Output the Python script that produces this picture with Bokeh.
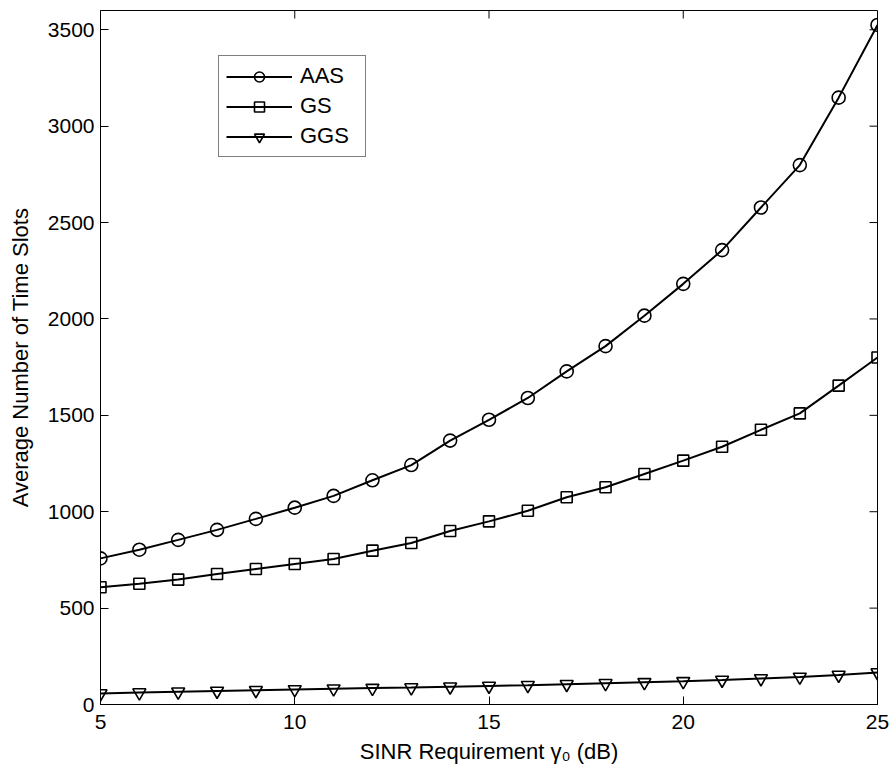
import math
from bokeh.plotting import figure
from bokeh.models import LinearAxis, FixedTicker, Legend, LegendItem, Range1d
from bokeh.embed import file_html
from bokeh.resources import INLINE

# ---- data ----
sinr = [5, 6, 7, 8, 9, 10, 11, 12, 13, 14, 15, 16, 17, 18, 19, 20, 21, 22, 23, 24, 25]
aas = [758, 803, 854, 906, 963, 1021, 1082, 1163, 1242, 1369, 1477, 1590, 1728, 1859,
       2017, 2182, 2357, 2578, 2798, 3148, 3525]
gs = [608, 626, 648, 677, 703, 729, 755, 798, 838, 900, 950, 1005, 1075, 1127,
      1196, 1265, 1337, 1425, 1510, 1654, 1800]
ggs = [57, 62, 66, 70, 74, 78, 82, 85, 88, 92, 96, 100, 105, 110,
       115, 120, 127, 135, 143, 153, 166]
x_ticks = [5, 10, 15, 20, 25]
y_ticks = [0, 500, 1000, 1500, 2000, 2500, 3000, 3500]
series_names = ["AAS", "GS", "GGS"]
x_min, x_max = 5, 25
y_min, y_max = 0, 3600

FONT = "Liberation Sans"
TICK_FS = "21px"
LABEL_FS = "22px"
TICK_LEN = 8

p = figure(width=892, height=775, output_backend="svg", toolbar_location=None,
           x_range=Range1d(x_min, x_max), y_range=Range1d(y_min, y_max),
           min_border_left=100, min_border_right=15, min_border_top=10,
           min_border_bottom=71, x_axis_location=None, y_axis_location=None)
p.xgrid.visible = False
p.ygrid.visible = False
p.outline_line_color = "black"
p.outline_line_width = 1
p.background_fill_color = "white"
p.border_fill_color = "white"

def style_axis(ax):
    ax.major_tick_in = TICK_LEN
    ax.major_tick_out = 0
    ax.minor_tick_in = 0
    ax.minor_tick_out = 0
    ax.axis_line_color = "black"
    ax.major_tick_line_color = "black"
    ax.major_label_text_font = FONT
    ax.major_label_text_color = "black"
    ax.major_label_text_font_size = TICK_FS
    ax.axis_label_text_font = FONT
    ax.axis_label_text_font_style = "normal"
    ax.axis_label_text_color = "black"
    ax.axis_label_text_font_size = LABEL_FS

xb = LinearAxis(ticker=FixedTicker(ticks=x_ticks), axis_label="SINR Requirement γ₀ (dB)")
style_axis(xb)
xb.major_label_standoff = 10
xb.axis_label_standoff = 7
p.add_layout(xb, "below")

yl = LinearAxis(ticker=FixedTicker(ticks=y_ticks), axis_label="Average Number of Time Slots")
style_axis(yl)
yl.major_label_standoff = 6
yl.axis_label_standoff = 12
p.add_layout(yl, "left")

# mirrored inward ticks on the top and right edges of the box
p.ray(x=x_ticks, y=[y_max] * len(x_ticks), length=TICK_LEN, length_units="screen",
      angle=-math.pi / 2, line_color="black", line_width=1)
p.ray(x=[x_max] * len(y_ticks), y=y_ticks, length=TICK_LEN, length_units="screen",
      angle=math.pi, line_color="black", line_width=1)

items = []
for name, ys, marker, size in [(series_names[0], aas, "circle", 13),
                               (series_names[1], gs, "square", 11),
                               (series_names[2], ggs, "inverted_triangle", 13)]:
    ln = p.line(sinr, ys, line_color="black", line_width=2)
    sc = p.scatter(sinr, ys, marker=marker, size=size, fill_color=None,
                   line_color="black", line_width=1.6)
    items.append(LegendItem(label=name, renderers=[ln, sc]))

legend = Legend(items=items, location=(118, 547))
legend.label_text_font = FONT
legend.label_text_font_size = LABEL_FS
legend.label_text_color = "black"
legend.glyph_width = 66
legend.glyph_height = 25
legend.label_height = 25
legend.label_width = 58
legend.label_standoff = 8
legend.spacing = 4
legend.padding = 7
legend.margin = 0
legend.border_line_color = "black"
legend.border_line_width = 1
legend.background_fill_alpha = 1
p.add_layout(legend)

open("out.html", "w").write(file_html(p, INLINE))
